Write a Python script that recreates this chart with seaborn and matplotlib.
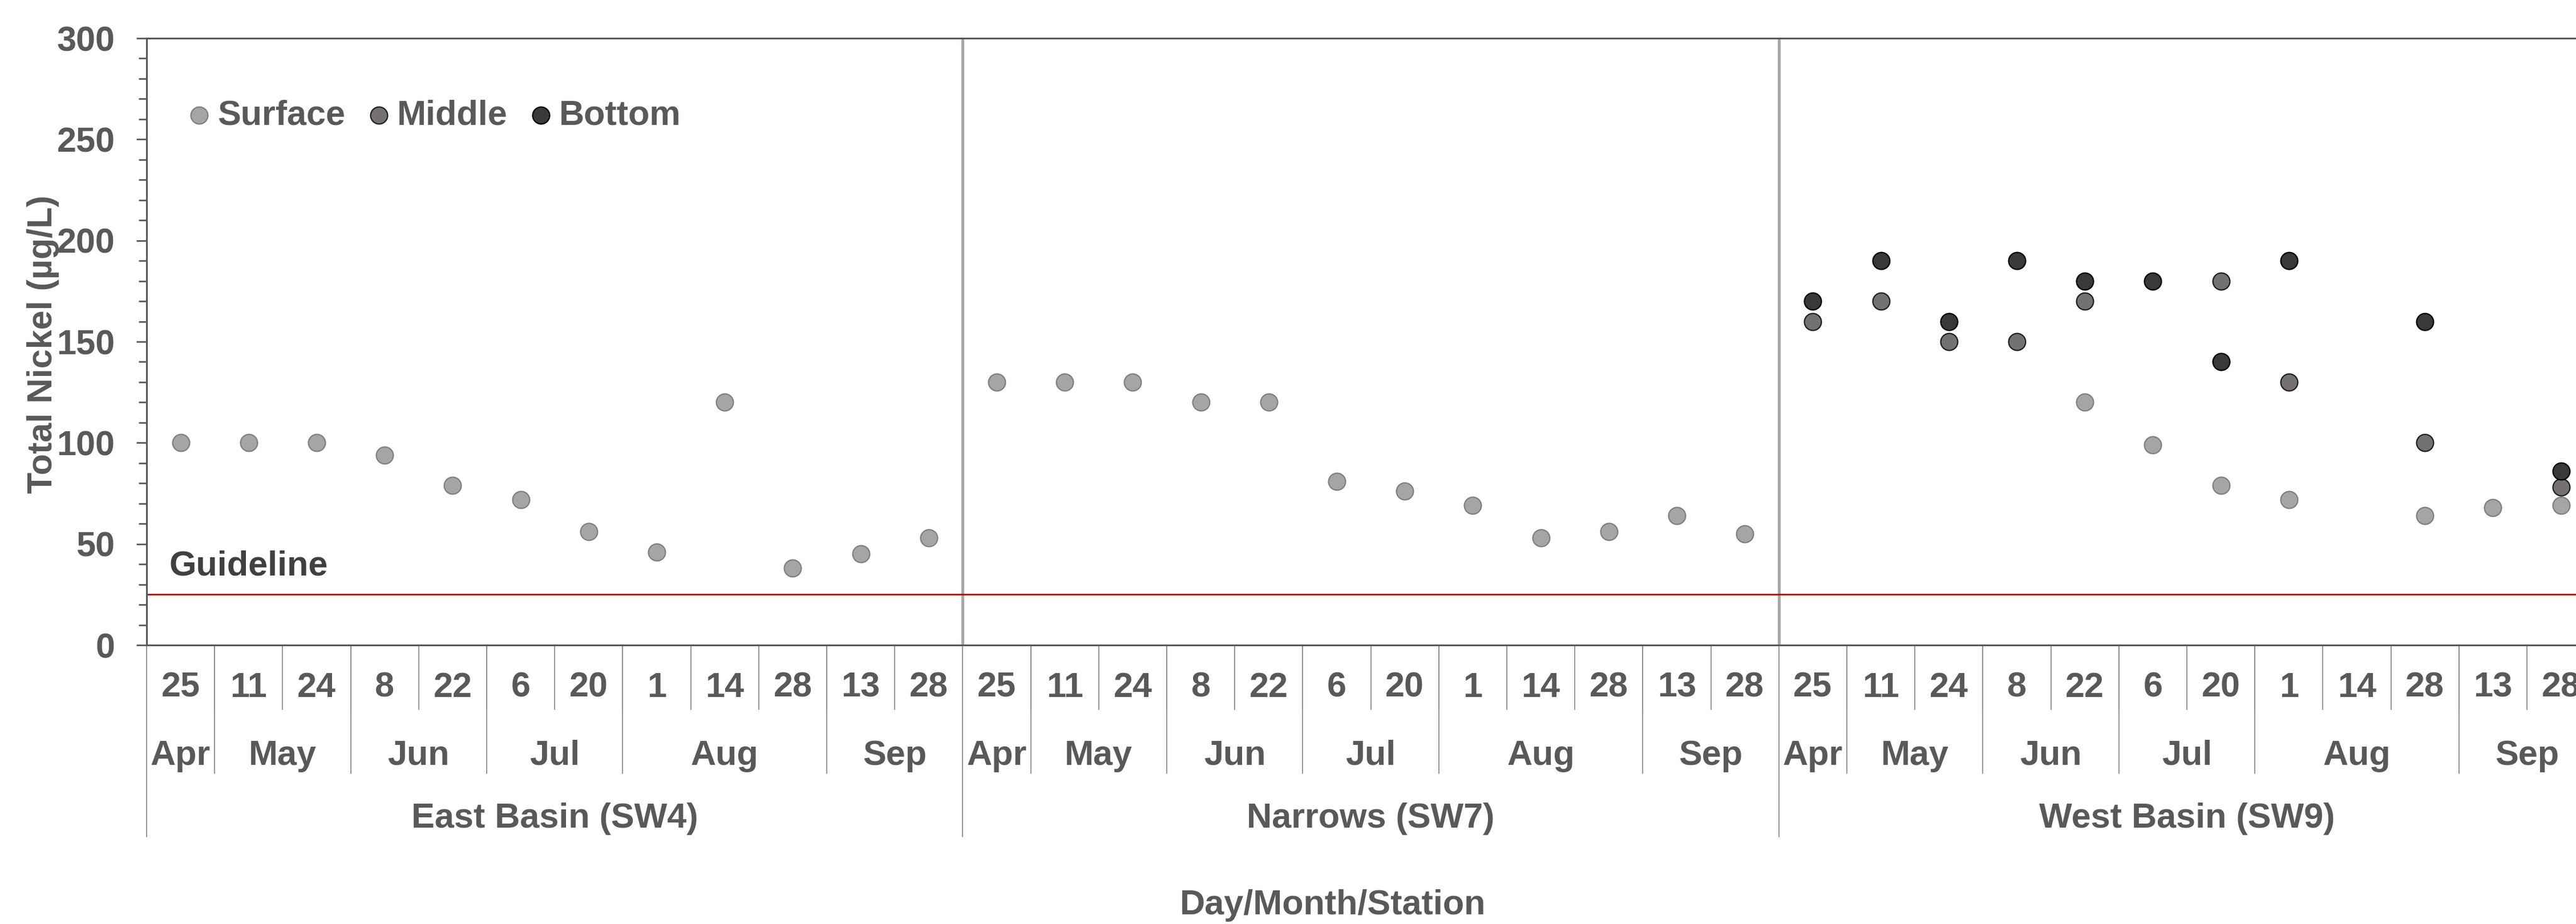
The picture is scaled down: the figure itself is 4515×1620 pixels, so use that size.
import numpy as np
import pandas as pd
import seaborn as sns
import matplotlib.pyplot as plt
from matplotlib.ticker import MultipleLocator

# --- data ---
stations = ["East Basin (SW4)", "Narrows (SW7)", "West Basin (SW9)"]
days = ["25", "11", "24", "8", "22", "6", "20", "1", "14", "28", "13", "28"]
months = ["Apr", "May", "Jun", "Jul", "Aug", "Sep"]
month_sizes = [1, 2, 2, 2, 3, 2]

east_surface = [100, 100, 100, 94, 79, 72, 56, 46, 120, 38, 45, 53]
narrows_surface = [130, 130, 130, 120, 120, 81, 76, 69, 53, 56, 64, 55]
west_surface = [np.nan, np.nan, np.nan, np.nan, 120, 99, 79, 72, np.nan, 64, 68, 69]
west_middle = [160, 170, 150, 150, 170, np.nan, 180, 130, np.nan, 100, np.nan, 78]
west_bottom = [170, 190, 160, 190, 180, 180, 140, 190, np.nan, 160, np.nan, 86]
empty = [np.nan] * 12

guideline = 25
depths = ["Surface", "Middle", "Bottom"]
fills = {"Surface": "#A5A5A5", "Middle": "#767171", "Bottom": "#3B3838"}
edges = {"Surface": "#7F7F7F", "Middle": "#1E1E1E", "Bottom": "#000000"}

series = {
    "Surface": east_surface + narrows_surface + west_surface,
    "Middle": empty + empty + west_middle,
    "Bottom": empty + empty + west_bottom,
}
rows = []
for depth in depths:
    for i, v in enumerate(series[depth]):
        rows.append({"pos": i, "depth": depth, "value": v})
df = pd.DataFrame(rows).dropna()

# --- style ---
sns.set_style("white")
plt.rcParams["font.family"] = ["Liberation Sans", "DejaVu Sans"]
plt.rcParams["font.weight"] = "bold"
txt = "#595959"
fs = 44

W, H = 4515, 1620
fig = plt.figure(figsize=(W / 100, H / 100), dpi=100)
cat_w = 119.2
x0, y0, y1 = 257, 1131, 67
ax = fig.add_axes([x0 / W, (H - y0) / H, 36 * cat_w / W, (y0 - y1) / H])

for depth in depths:
    sub = df[df.depth == depth]
    sns.scatterplot(data=sub, x="pos", y="value", ax=ax, s=460,
                    color=fills[depth], edgecolor=edges[depth],
                    linewidth=1.6, label=depth, zorder=3)

ax.set_xlim(-0.5, 35.5)
ax.set_ylim(0, 300)
ax.yaxis.set_major_locator(MultipleLocator(50))
ax.yaxis.set_minor_locator(MultipleLocator(10))
ax.tick_params(axis="y", which="major", direction="out", length=13, width=2,
               color=txt, labelsize=fs, labelcolor=txt, pad=27, left=True)
ax.tick_params(axis="y", which="minor", direction="out", length=10, width=2,
               color=txt, left=True)
ax.set_xticks([])
ax.set_xlabel("")
ax.set_ylabel("")
for side in ["left", "top", "bottom"]:
    ax.spines[side].set_color(txt)
    ax.spines[side].set_linewidth(2.2)
ax.spines["right"].set_visible(False)

# station separators inside plot
for b in [11.5, 23.5]:
    ax.axvline(b, color="#A6A6A6", lw=3.6, zorder=1)

# guideline
ax.axhline(guideline, color="#C00000", lw=2, zorder=2)
ax.text(-0.17, 39, "Guideline", fontsize=fs, color="#404040",
        fontweight="bold", va="center", ha="left")

# hierarchical x labels
trans = ax.get_xaxis_transform()
ah = y0 - y1
yd = -(1206 - y0) / ah
yd_line = -(1244 - y0) / ah
ym = -(1325 - y0) / ah
ym_line = -(1356 - y0) / ah
ys = -(1435 - y0) / ah
ys_line = -(1467 - y0) / ah
line_kw = dict(color="#8C8C8C", lw=1.3, transform=trans, clip_on=False)

for s_i, st in enumerate(stations):
    base = s_i * 12
    for d_i, d in enumerate(days):
        ax.text(base + d_i, yd, d, transform=trans, ha="center", va="center",
                fontsize=fs, color=txt, fontweight="bold")
        if d_i > 0:
            ax.plot([base + d_i - 0.5] * 2, [0, yd_line], **line_kw)
    start = 0
    for m, n in zip(months, month_sizes):
        ax.text(base + start + (n - 1) / 2, ym, m, transform=trans,
                ha="center", va="center", fontsize=fs, color=txt,
                fontweight="bold")
        if start > 0:
            ax.plot([base + start - 0.5] * 2, [0, ym_line], **line_kw)
        start += n
    ax.plot([base - 0.5] * 2, [0, ys_line], **line_kw)
    ax.text(base + 5.5, ys, st, transform=trans, ha="center", va="center",
            fontsize=fs, color=txt, fontweight="bold")

fig.text(2336 / W, (H - 1587) / H, "Day/Month/Station", ha="center",
         va="center", fontsize=fs, color=txt, fontweight="bold")
fig.text(76 / W, (H - 604) / H, "Total Nickel (µg/L)", rotation=90,
         ha="center", va="center", fontsize=fs, color=txt, fontweight="bold")

# legend
leg = ax.legend(loc="center left", bbox_to_anchor=(334 / W, (H - 203) / H),
                bbox_transform=fig.transFigure, ncol=3, frameon=False,
                fontsize=fs, handlelength=0.5, handletextpad=0.28,
                columnspacing=0.7, borderpad=0, borderaxespad=0)
for t in leg.get_texts():
    t.set_color(txt)
    t.set_fontweight("bold")

fig.savefig("out.png", dpi=100)
